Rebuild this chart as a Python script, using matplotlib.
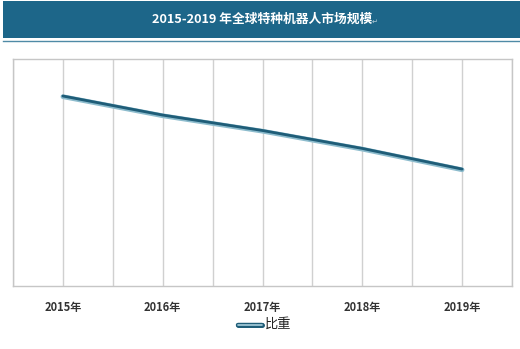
import matplotlib
matplotlib.use("Agg")
import matplotlib.pyplot as plt
import matplotlib.patheffects as pe
from matplotlib.patches import Rectangle
from matplotlib.lines import Line2D

plt.rcParams['font.family'] = ['Noto Sans CJK SC', 'DejaVu Sans']

title = "2015-2019 年全球特种机器人市场规模"
categories = ["2015年", "2016年", "2017年", "2018年", "2019年"]
series_name = "比重"
values = [83.7, 75.3, 68.5, 60.6, 51.5]

W, H = 520, 349
fig = plt.figure(figsize=(W / 100, H / 100), dpi=100)
fig.patch.set_facecolor("white")

# header band
fig.patches.append(Rectangle((3 / W, 1 - 38 / H), 1 - 3 / W, 37 / H,
                             transform=fig.transFigure, facecolor="#1d6689",
                             edgecolor="none", zorder=0))
fig.lines.append(Line2D([3 / W, 1], [1 - 40.5 / H, 1 - 40.5 / H],
                        transform=fig.transFigure, color="#4f8aa6", lw=1.0))
fig.text(262 / W, 1 - 19.5 / H, title, color="white", fontsize=9.2,
         fontweight="bold", ha="center", va="center")
fig.text(372 / W, 1 - 22 / H, "↵", color="#b8cfdb", fontsize=5,
         ha="left", va="center", family="DejaVu Sans")

ax = fig.add_axes([13 / W, 1 - 286 / H, (512 - 13) / W, (286 - 59) / H])
x = list(range(len(categories)))
ax.plot(x, values, color="#1f5d78", lw=2.0, solid_capstyle="round",
        path_effects=[pe.Stroke(linewidth=3.4, foreground="#8dbccd", offset=(0, -0.5)),
                      pe.Normal()], zorder=3)

ax.set_xlim(-0.5, len(categories) - 0.5)
ax.set_ylim(0, 100)
ax.set_xticks(x)
ax.set_xticklabels(categories, fontsize=8, fontweight="bold", color="#333333")
ax.set_xticks([i + 0.5 for i in range(-1, len(categories))], minor=True)
ax.tick_params(axis="x", which="both", length=0, pad=11)
ax.set_yticks([])
ax.grid(axis="x", which="both", color="#d0d0d0", lw=1.0)
for s in ax.spines.values():
    s.set_color("#c6c6c6")
    s.set_linewidth(1.0)

# legend
fig.lines.append(Line2D([238 / W, 262 / W], [1 - 325 / H, 1 - 325 / H],
                        transform=fig.transFigure, color="#1f5d78", lw=3.2,
                        solid_capstyle="round",
                        path_effects=[pe.Stroke(linewidth=3.6, foreground="#1f5d78"),
                                      pe.Normal(),
                                      pe.Stroke(linewidth=1.2, foreground="#a9cfdc")]))
fig.text(265 / W, 1 - 324 / H, series_name, fontsize=9.5, color="#222222",
         ha="left", va="center")

fig.savefig("out.png", dpi=100)
